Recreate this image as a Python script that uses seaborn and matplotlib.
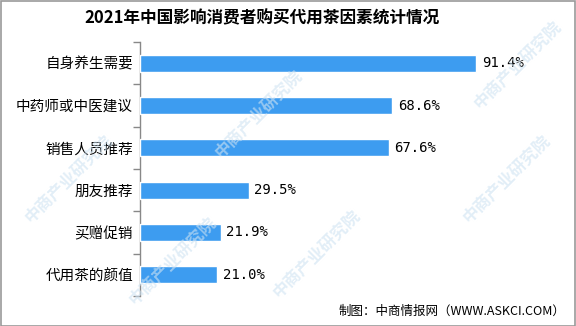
import matplotlib
matplotlib.use("Agg")
import matplotlib.pyplot as plt
import seaborn as sns
import pandas as pd
from matplotlib.patches import Rectangle

categories = ["自身养生需要", "中药师或中医建议", "销售人员推荐", "朋友推荐", "买赠促销", "代用茶的颜值"]
values = [91.4, 68.6, 67.6, 29.5, 21.9, 21.0]
value_labels = ["91.4%", "68.6%", "67.6%", "29.5%", "21.9%", "21.0%"]
title = "2021年中国影响消费者购买代用茶因素统计情况"
source = "制图：中商情报网（WWW.ASKCI.COM）"

sns.set_theme(style="white")
plt.rcParams['font.family'] = ['Noto Sans CJK SC', 'DejaVu Sans']

df = pd.DataFrame({"cat": categories, "val": values})

fig = plt.figure(figsize=(5.76, 3.26), dpi=100)
ax = fig.add_axes([140/576, 30/326, 368/576, 254/326])

# faint watermarks
for (wx, wy) in [(0.45, 0.65), (0.12, 0.45), (0.55, 0.22), (0.88, 0.45), (0.3, 0.2), (0.9, 0.8)]:
    fig.text(wx, wy, "中商产业研究院", rotation=45, fontsize=12, color="#cfe3f2",
             alpha=0.6, ha="center", va="center", zorder=0, fontweight="bold")

sns.barplot(data=df, y="cat", x="val", ax=ax, color="#3d9cf0", width=0.4,
            saturation=1, orient="h", zorder=3)

ax.set_xlim(0, 100)
ax.set_ylim(5.5, -0.5)
ax.set_xlabel("")
ax.set_ylabel("")
ax.set_xticks([])
ax.patch.set_alpha(0)

for s in ["top", "right", "bottom"]:
    ax.spines[s].set_visible(False)
ax.spines["left"].set_color("#888888")
ax.spines["left"].set_linewidth(1.0)

ax.set_yticks(range(len(categories)))
ax.set_yticklabels(categories, fontsize=10.5, color="#000000")
ax.tick_params(axis="y", which="major", length=0, pad=5)
ax.set_yticks([i - 0.5 for i in range(len(categories) + 1)], minor=True)
ax.tick_params(axis="y", which="minor", length=5, color="#888888", width=1, direction="out", left=True)

for i, (v, lab) in enumerate(zip(values, value_labels)):
    ax.text(v + 1.5, i, lab, va="center", ha="left", fontsize=10,
            family=["DejaVu Sans Mono"], color="#000000", zorder=5)

fig.text(262/576, 1 - 18/326, title, ha="center", va="center", fontsize=12,
         fontweight="bold", color="#000000")
fig.text(565/576, 1 - 311/326, source, ha="right", va="center", fontsize=9, color="#000000")

fig.patches.append(Rectangle((0.5/576, 0.5/326), 1 - 1.5/576, 1 - 1.5/326, transform=fig.transFigure,
                             fill=False, edgecolor="#999999", linewidth=1.2, zorder=10))

fig.savefig("out.png", dpi=100, facecolor="white")
